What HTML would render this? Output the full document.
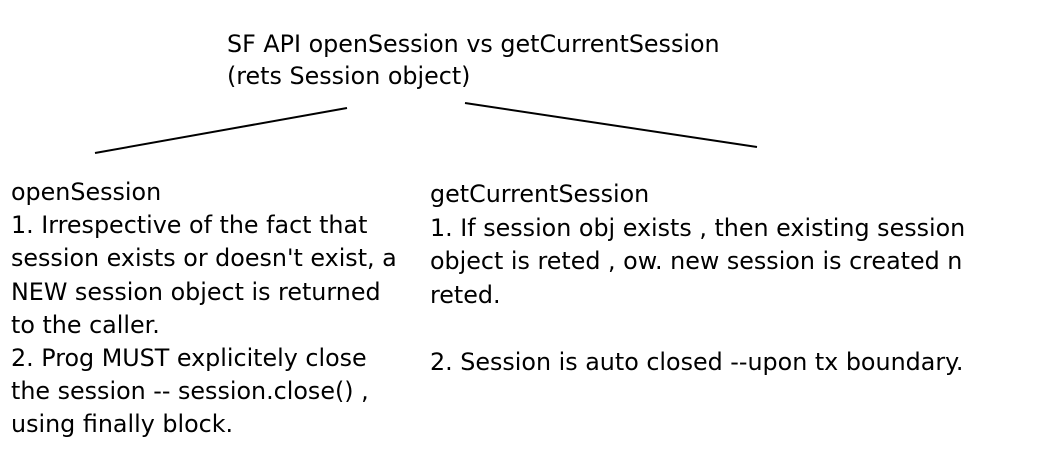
<!DOCTYPE html>
<html><head><meta charset="utf-8"><style>
html,body{margin:0;padding:0;background:#fff;}
body{width:1046px;height:472px;position:relative;overflow:hidden;font-family:"DejaVu Sans","Liberation Sans",sans-serif;color:#000;}
.t{position:absolute;white-space:nowrap;font-size:23.8px;}
</style></head><body>
<div class="t" style="left:227px;top:28px;line-height:32px;">SF API openSession vs getCurrentSession<br>(rets Session object)</div>
<svg width="1046" height="472" style="position:absolute;left:0;top:0">
<line x1="95" y1="153" x2="347" y2="108" stroke="#000" stroke-width="2"/>
<line x1="465" y1="103" x2="757" y2="147" stroke="#000" stroke-width="2"/>
</svg>
<div class="t" style="left:11px;top:176px;line-height:33.2px;">openSession<br>1. Irrespective of the fact that<br>session exists or doesn't exist, a<br>NEW session object is returned<br>to the caller.<br>2. Prog MUST explicitely close<br>the session -- session.close() ,<br>using finally block.</div>
<div class="t" style="left:430px;top:178px;line-height:33.5px;">getCurrentSession<br>1. If session obj exists , then existing session<br>object is reted , ow. new session is created n<br>reted.<br><br>2. Session is auto closed --upon tx boundary.</div>
</body></html>
